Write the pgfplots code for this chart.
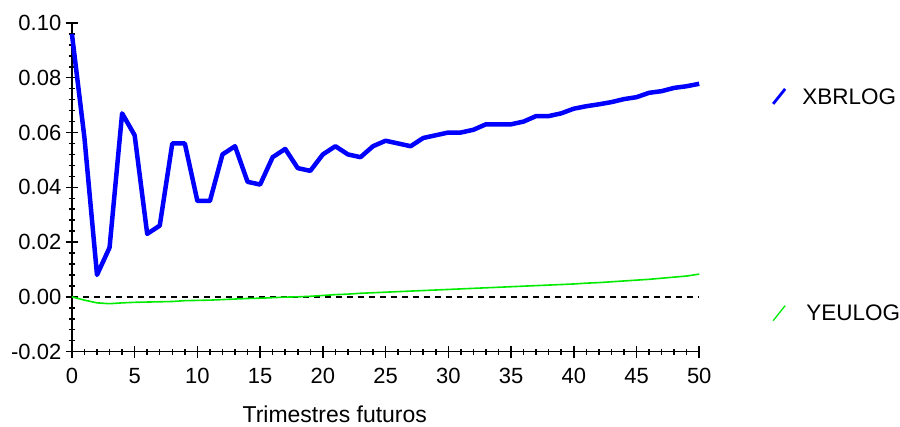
\documentclass[border=0pt]{standalone}
\usepackage{pgfplots}
\pgfplotsset{compat=1.18}
\usepackage{fontspec}
\setmainfont{Liberation Sans}
\definecolor{xblue}{RGB}{0,0,255}
\definecolor{ygreen}{RGB}{0,235,0}
\pgfplotstableread{
t v
0 0.096
1 0.058
2 0.008
3 0.018
4 0.067
5 0.059
6 0.023
7 0.026
8 0.056
9 0.056
10 0.035
11 0.035
12 0.052
13 0.055
14 0.042
15 0.041
16 0.051
17 0.054
18 0.047
19 0.046
20 0.052
21 0.055
22 0.052
23 0.051
24 0.055
25 0.057
26 0.056
27 0.055
28 0.058
29 0.059
30 0.060
31 0.060
32 0.061
33 0.063
34 0.063
35 0.063
36 0.064
37 0.066
38 0.066
39 0.067
40 0.0687
41 0.0696
42 0.0703
43 0.0711
44 0.0722
45 0.0729
46 0.0745
47 0.0751
48 0.0763
49 0.0769
50 0.0778
}\xbr
\pgfplotstableread{
t v
0 0.0000
1 -0.0012
2 -0.0022
3 -0.0025
4 -0.0022
5 -0.0020
6 -0.0019
7 -0.0018
8 -0.0017
9 -0.0014
10 -0.0013
11 -0.0012
12 -0.0010
13 -0.0008
14 -0.0006
15 -0.0005
16 -0.0003
17 -0.0001
18 0.0000
19 0.0002
20 0.0005
21 0.0008
22 0.0010
23 0.0013
24 0.0015
25 0.0017
26 0.0019
27 0.0021
28 0.0023
29 0.0025
30 0.0027
31 0.0029
32 0.0031
33 0.0033
34 0.0035
35 0.0037
36 0.0039
37 0.0041
38 0.0043
39 0.0045
40 0.0047
41 0.0050
42 0.0052
43 0.0055
44 0.0058
45 0.0061
46 0.0064
47 0.0068
48 0.0072
49 0.0076
50 0.0083
}\yeu
\begin{document}
\begin{tikzpicture}
\fontsize{22.5bp}{27bp}\selectfont
\path (-72bp,-75bp) rectangle (828bp,352bp);
\begin{axis}[
  at={(0,0)}, anchor=south west,
  scale only axis, width=628bp, height=329bp,
  xmin=0, xmax=50, ymin=-0.02, ymax=0.10,
  axis lines=left, axis line style={-, line width=1.5bp},
  tick align=center,
  major tick length=12bp, minor tick length=6bp,
  every tick/.style={black, line width=1.5bp},
  xtick={0,5,...,50}, minor x tick num=4,
  ytick={-0.02,0,0.02,0.04,0.06,0.08,0.10}, minor y tick num=4,
  /pgf/number format/assume math mode=true,
  yticklabel style={/pgf/number format/fixed, /pgf/number format/precision=2, /pgf/number format/fixed zerofill, font=\fontsize{22bp}{26bp}\selectfont, xshift=3bp},
  xticklabel style={font=\fontsize{22bp}{26bp}\selectfont, yshift=-3bp},
  scaled y ticks=false,
  xlabel={Trimestres futuros},
  xlabel style={at={(axis description cs:0.419,0)}, anchor=base, inner sep=0pt, yshift=-71bp, font=\fontsize{23bp}{27bp}\selectfont},
  clip=false,
]
\addplot[black, line width=1.5bp, dash pattern=on 6bp off 5bp] coordinates {(0,0) (50,0)};
\addplot[ygreen, line width=1.6bp] table[x=t,y=v] {\yeu};
\addplot[xblue, line width=4.5bp, line join=round] table[x=t,y=v] {\xbr};
\end{axis}
\draw[xblue, line width=2.8bp] (702bp,248bp) -- (714bp,263bp);
\node[anchor=west, inner sep=0pt] at (731bp,255bp) {XBRLOG};
\draw[ygreen, line width=1.3bp] (702bp,31bp) -- (714bp,46bp);
\node[anchor=west, inner sep=0pt] at (735bp,39bp) {YEULOG};
\end{tikzpicture}
\end{document}
